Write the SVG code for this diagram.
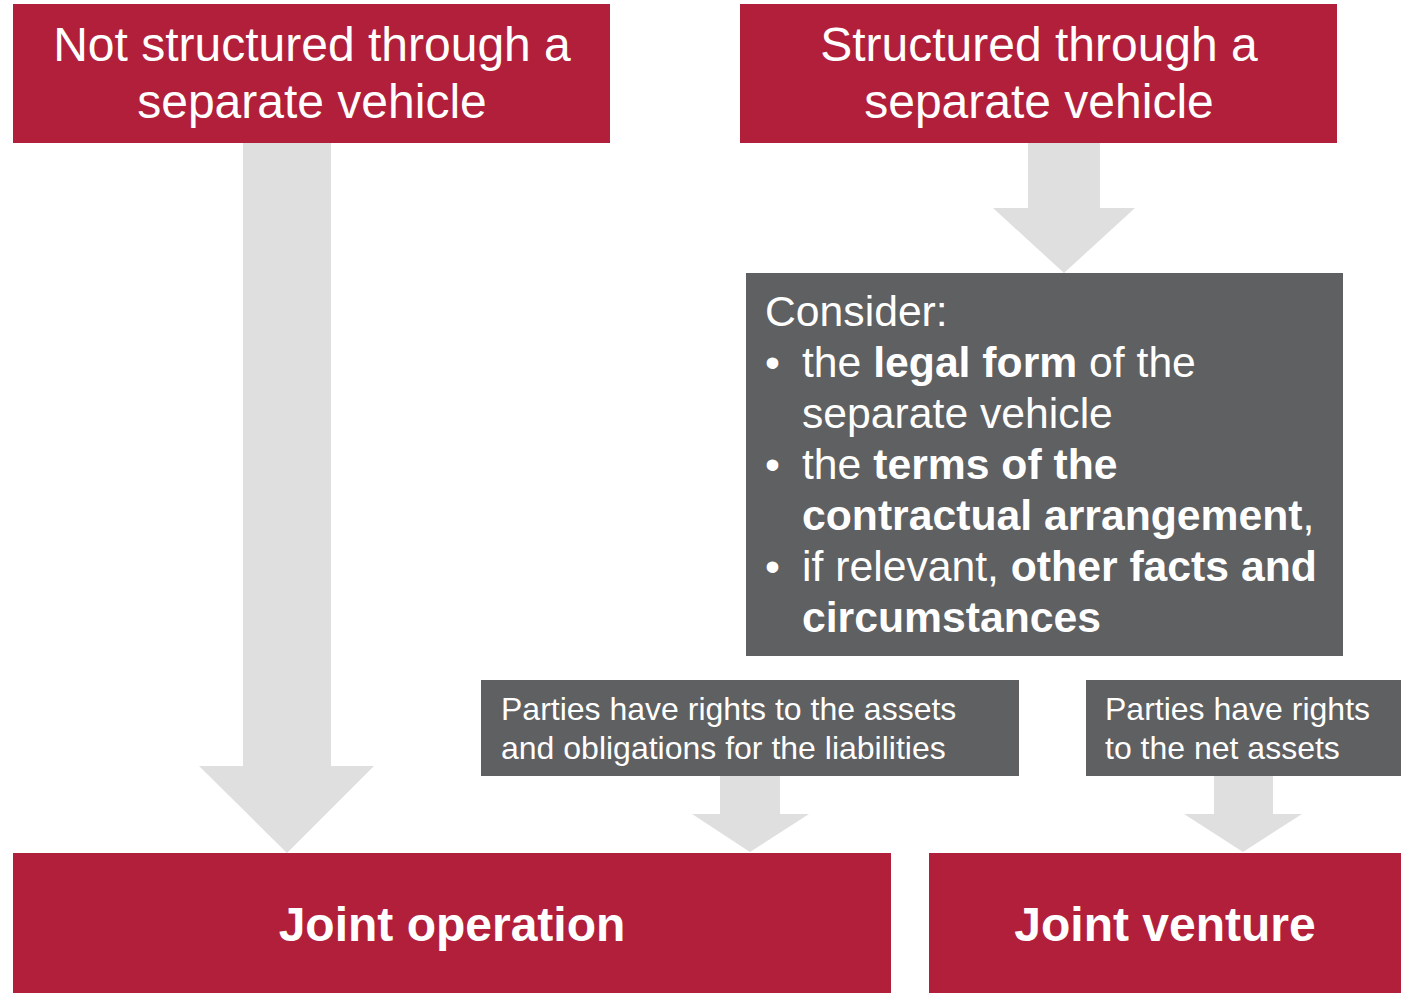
<svg xmlns="http://www.w3.org/2000/svg" width="1404" height="993" viewBox="0 0 1404 993">
<style>
.red{fill:#B21F3B}
.dark{fill:#5F6062}
.arr{fill:#DFDFDF}
text{font-family:"Liberation Sans",Arial,sans-serif;fill:#FFFFFF}
.title{font-size:48px;text-anchor:middle}
.res{font-size:48px;font-weight:bold;text-anchor:middle}
.con{font-size:42.7px}
.sm{font-size:32px}
.b{font-weight:bold}
</style>
<rect width="1404" height="993" fill="#FFFFFF"/>
<g id="connectors">
<polygon class="arr" points="243,143 331,143 331,766 374,766 287,853 199,766 243,766"/>
<polygon class="arr" points="1028,143 1100,143 1100,208 1135,208 1064,273 993,208 1028,208"/>
<polygon class="arr" points="720,776 780,776 780,814 809,814 750,852 692,814 720,814"/>
<polygon class="arr" points="1214,776 1273,776 1273,814 1302,814 1243,852 1184,814 1214,814"/>
</g>
<g id="not-structured">
<rect class="red" x="13" y="4" width="597" height="139"/>
<text class="title" x="312" y="61">Not structured through a</text>
<text class="title" x="312" y="118">separate vehicle</text>
</g>
<g id="structured">
<rect class="red" x="740" y="4" width="597" height="139"/>
<text class="title" x="1039" y="61">Structured through a</text>
<text class="title" x="1039" y="118">separate vehicle</text>
</g>
<g id="consider">
<rect class="dark" x="746" y="273" width="597" height="383"/>
<text class="con" x="765" y="326">Consider:</text>
<text class="con" x="765" y="377">•</text>
<text class="con" x="802" y="377">the <tspan class="b">legal form</tspan> of the</text>
<text class="con" x="802" y="428">separate vehicle</text>
<text class="con" x="765" y="479">•</text>
<text class="con" x="802" y="479">the <tspan class="b">terms of the</tspan></text>
<text class="con" x="802" y="530"><tspan class="b">contractual arrangement</tspan>,</text>
<text class="con" x="765" y="581">•</text>
<text class="con" x="802" y="581">if relevant, <tspan class="b">other facts and</tspan></text>
<text class="con" x="802" y="632" font-weight="bold">circumstances</text>
</g>
<g id="rights-assets">
<rect class="dark" x="481" y="680" width="538" height="96"/>
<text class="sm" x="501" y="720">Parties have rights to the assets</text>
<text class="sm" x="501" y="759">and obligations for the liabilities</text>
</g>
<g id="rights-net">
<rect class="dark" x="1086" y="680" width="315" height="96"/>
<text class="sm" x="1105" y="720">Parties have rights</text>
<text class="sm" x="1105" y="759">to the net assets</text>
</g>
<g id="joint-operation">
<rect class="red" x="13" y="853" width="878" height="140"/>
<text class="res" x="452" y="941">Joint operation</text>
</g>
<g id="joint-venture">
<rect class="red" x="929" y="853" width="472" height="140"/>
<text class="res" x="1165" y="941">Joint venture</text>
</g>
</svg>
